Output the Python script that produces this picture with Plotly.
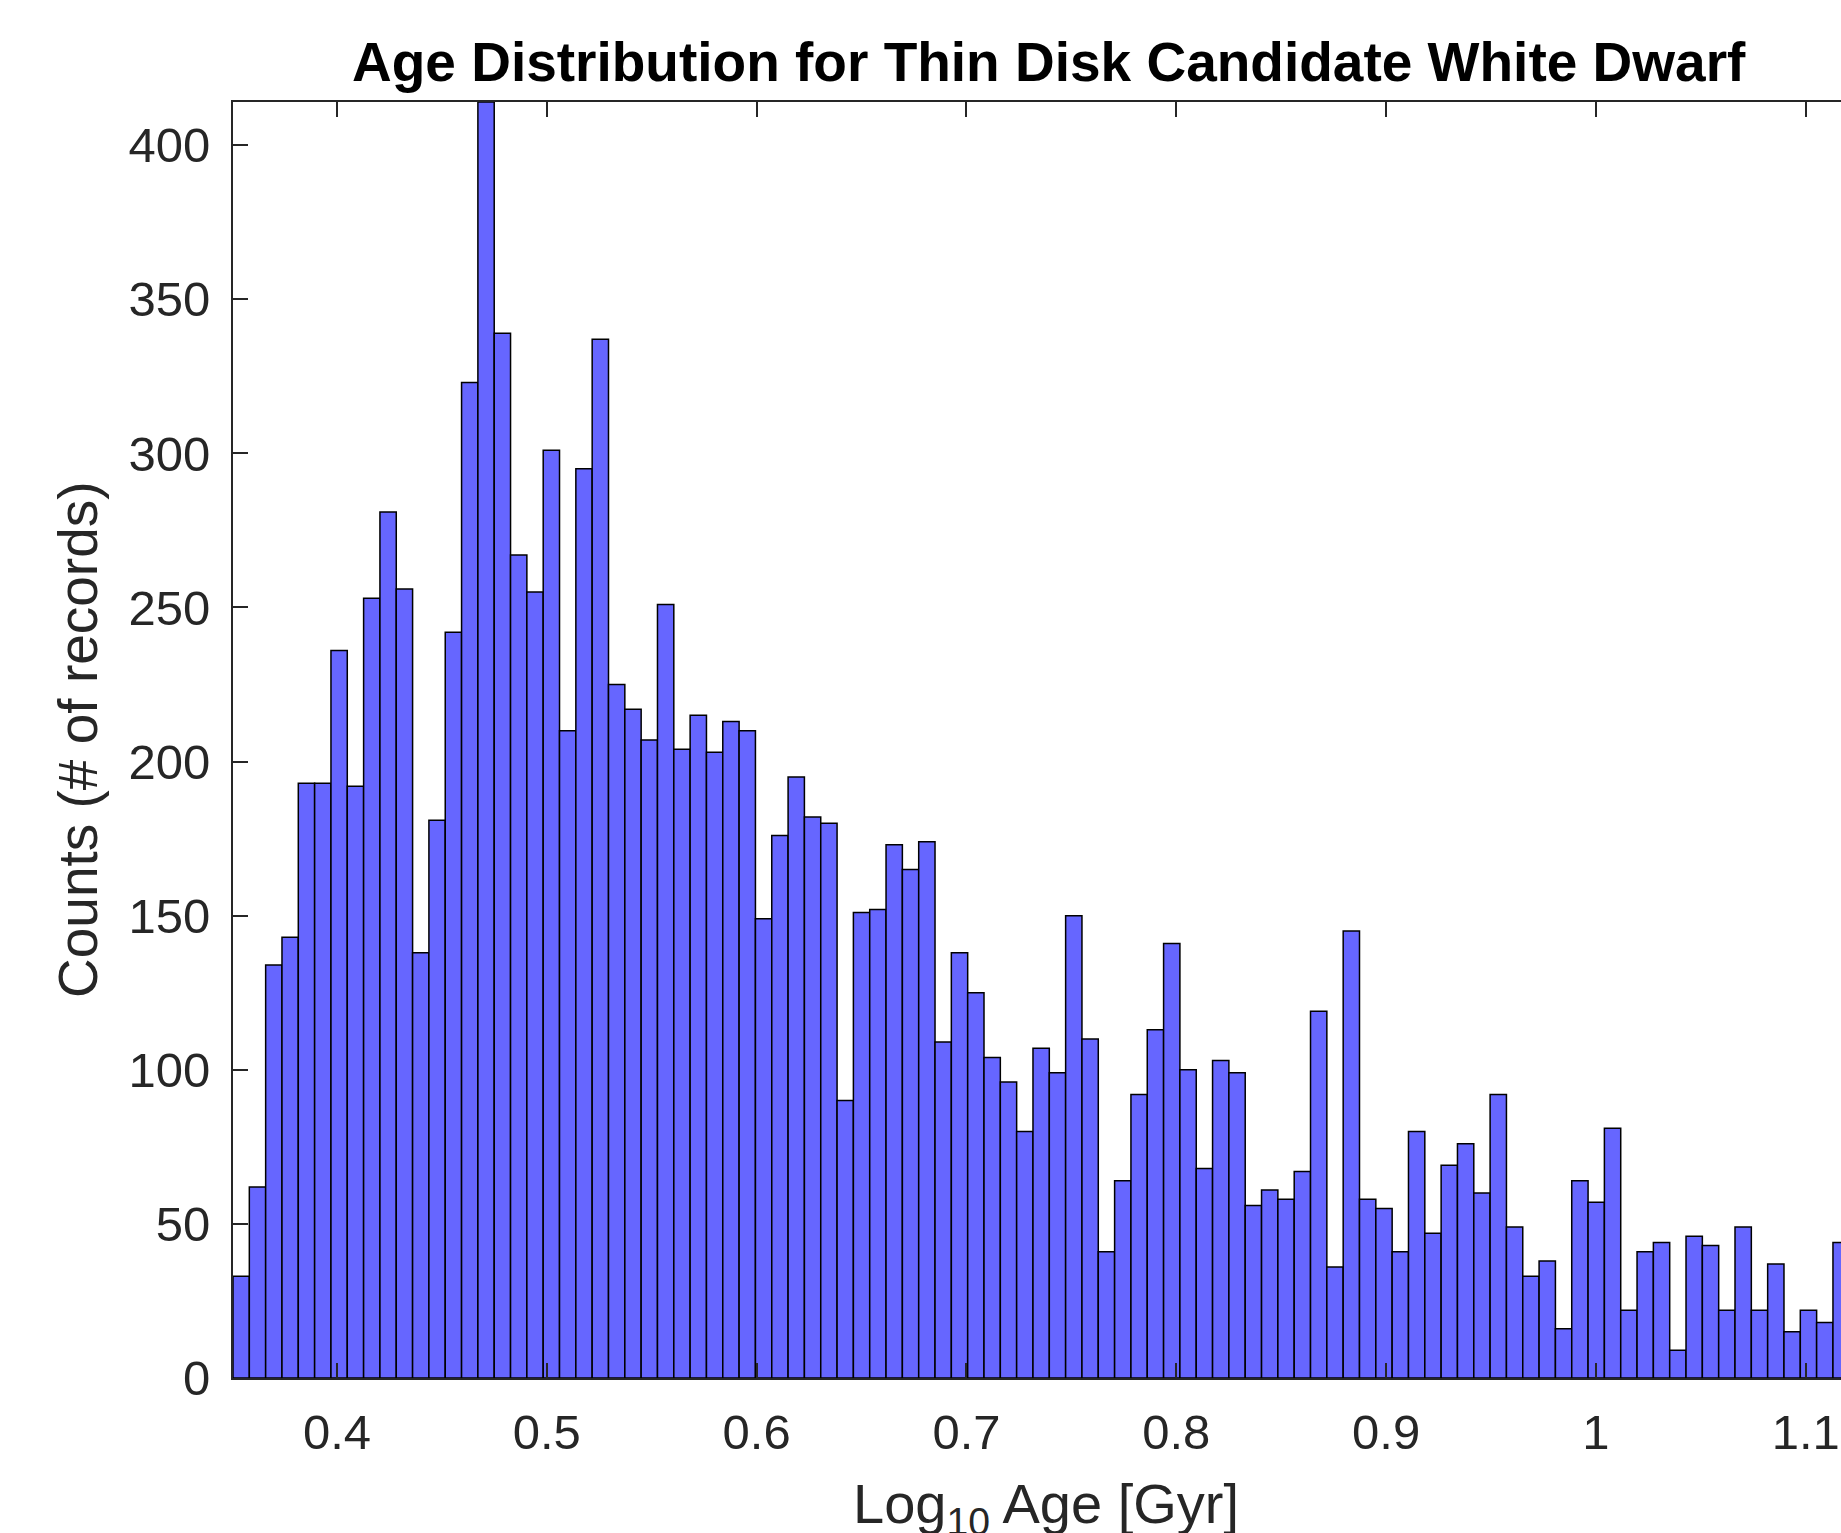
import plotly.graph_objects as go

# ---- data ----
bin_start = 0.35044      # left edge of first bin (log10 Gyr)
bin_width = 0.007781     # bin width (log10 Gyr)
counts = [33, 62, 134, 143, 193, 193, 236, 192, 253, 281,
          256, 138, 181, 242, 323, 414, 339, 267, 255, 301,
          210, 295, 337, 225, 217, 207, 251, 204, 215, 203,
          213, 210, 149, 176, 195, 182, 180, 90, 151, 152,
          173, 165, 174, 109, 138, 125, 104, 96, 80, 107,
          99, 150, 110, 41, 64, 92, 113, 141, 100, 68,
          103, 99, 56, 61, 58, 67, 119, 36, 145, 58,
          55, 41, 80, 47, 69, 76, 60, 92, 49, 33,
          38, 16, 64, 57, 81, 22, 41, 44, 9, 46,
          43, 22, 49, 22, 37, 15, 22, 18, 44]
x_ticks = [0.4, 0.5, 0.6, 0.7, 0.8, 0.9, 1.0, 1.1]
x_tick_labels = ["0.4", "0.5", "0.6", "0.7", "0.8", "0.9", "1", "1.1"]
y_ticks = [0, 50, 100, 150, 200, 250, 300, 350, 400]
y_tick_labels = [str(v) for v in y_ticks]
x_view = [0.35044, 1.11681]
y_view = [0, 414]

title_text = "Age Distribution for Thin Disk Candidate White Dwarf"
xlabel_text = "Log<sub>10</sub> Age [Gyr]"
ylabel_text = "Counts (# of records)"

centers = [bin_start + (i + 0.5) * bin_width for i in range(len(counts))]

W, H = 1841, 1533
ML, MR, MT, MB = 233, 0, 102, 155
FONT = "Liberation Sans, Arial, Helvetica, sans-serif"
AX = "#262626"

fig = go.Figure(go.Bar(
    x=centers, y=counts, width=bin_width,
    marker=dict(color="#6666FF", line=dict(color="black", width=1.5)),
    hoverinfo="x+y",
))

fig.update_layout(
    width=W, height=H,
    margin=dict(l=ML, r=MR, t=MT, b=MB, autoexpand=False),
    paper_bgcolor="white", plot_bgcolor="white",
    showlegend=False,
    font=dict(family=FONT, color=AX, size=49),
)

fig.update_xaxes(
    range=x_view, tickvals=x_ticks, ticktext=x_tick_labels,
    ticks="inside", ticklen=15, tickwidth=2, tickcolor=AX,
    showline=True, linecolor=AX, linewidth=2, mirror="ticks",
    showgrid=False, zeroline=False,
    tickfont=dict(family=FONT, size=49, color=AX),
    ticklabelstandoff=10,
)
fig.update_yaxes(
    range=y_view, tickvals=y_ticks, ticktext=y_tick_labels,
    ticks="inside", ticklen=15, tickwidth=2, tickcolor=AX,
    showline=True, linecolor=AX, linewidth=2, mirror=False,
    showgrid=False, zeroline=False,
    tickfont=dict(family=FONT, size=49, color=AX),
    ticklabelstandoff=11,
)

pw = W - ML - MR
fig.add_annotation(
    text="<b>" + title_text + "</b>", xref="paper", yref="paper",
    x=(1049 - ML) / pw, y=1, xanchor="center", yanchor="bottom", yshift=7,
    showarrow=False, font=dict(family=FONT, size=55, color="black"),
)
fig.add_annotation(
    text=xlabel_text, xref="paper", yref="paper",
    x=(1045.5 - ML) / pw, y=0, xanchor="center", yanchor="top", yshift=-92,
    showarrow=False, font=dict(family=FONT, size=56, color=AX),
)
fig.add_annotation(
    text=ylabel_text, xref="paper", yref="paper", textangle=-90,
    x=(78 - ML) / pw, y=0.5, xanchor="center", yanchor="middle",
    showarrow=False, font=dict(family=FONT, size=55, color=AX),
)

fig.write_html("out.html", config={"displayModeBar": False},
               post_script="document.body.style.margin='0';document.body.style.overflow='hidden';")
